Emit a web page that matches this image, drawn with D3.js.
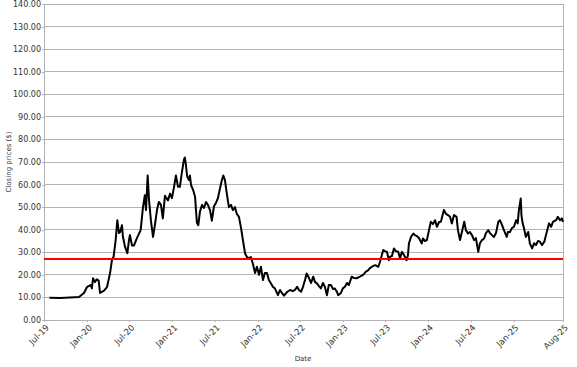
<!DOCTYPE html>
<html>
<head>
<meta charset="utf-8">
<script src="https://cdn.jsdelivr.net/npm/d3@7"></script>
<style>
  body { margin: 0; background: #fff; }
  text { font-family: "DejaVu Sans", sans-serif; }
</style>
</head>
<body>
<script>
const width = 577;
const height = 367;
const margin = { top: 4, right: 14, bottom: 47, left: 44 };

// closing prices
const dates = [
  "2019-07-24", "2019-09-07", "2019-10-20", "2019-11-28", "2019-12-19", "2020-01-02", "2020-01-17", "2020-01-22",
  "2020-01-27", "2020-02-04", "2020-02-12", "2020-02-20", "2020-02-26", "2020-03-05", "2020-03-14", "2020-03-27",
  "2020-04-09", "2020-04-17", "2020-04-24", "2020-05-03", "2020-05-10", "2020-05-17", "2020-05-22", "2020-05-30",
  "2020-06-03", "2020-06-12", "2020-06-22", "2020-06-29", "2020-07-03", "2020-07-12", "2020-07-20", "2020-08-02",
  "2020-08-18", "2020-08-28", "2020-09-05", "2020-09-10", "2020-09-17", "2020-09-23", "2020-10-01", "2020-10-10",
  "2020-10-18", "2020-10-27", "2020-11-04", "2020-11-13", "2020-11-21", "2020-11-30", "2020-12-13", "2020-12-22",
  "2020-12-30", "2021-01-08", "2021-01-16", "2021-01-25", "2021-02-02", "2021-02-10", "2021-02-19", "2021-02-23",
  "2021-02-27", "2021-03-05", "2021-03-13", "2021-03-17", "2021-03-22", "2021-03-31", "2021-04-08", "2021-04-12",
  "2021-04-16", "2021-04-22", "2021-04-29", "2021-05-08", "2021-05-16", "2021-05-25", "2021-06-02", "2021-06-11",
  "2021-06-19", "2021-06-28", "2021-07-07", "2021-07-15", "2021-07-24", "2021-08-01", "2021-08-07", "2021-08-14",
  "2021-08-23", "2021-08-31", "2021-09-09", "2021-09-17", "2021-09-26", "2021-10-04", "2021-10-13", "2021-10-22",
  "2021-10-30", "2021-11-08", "2021-11-16", "2021-11-25", "2021-12-03", "2021-12-12", "2021-12-21", "2021-12-29",
  "2022-01-07", "2022-01-15", "2022-01-24", "2022-02-01", "2022-02-10", "2022-02-18", "2022-02-26", "2022-03-08",
  "2022-03-16", "2022-03-29", "2022-04-07", "2022-04-15", "2022-04-24", "2022-05-07", "2022-05-20", "2022-06-01",
  "2022-06-10", "2022-06-19", "2022-06-27", "2022-07-06", "2022-07-14", "2022-07-23", "2022-07-30", "2022-08-09",
  "2022-08-18", "2022-08-27", "2022-09-04", "2022-09-12", "2022-09-21", "2022-09-29", "2022-10-08", "2022-10-16",
  "2022-10-25", "2022-11-02", "2022-11-11", "2022-11-20", "2022-11-28", "2022-12-07", "2022-12-12", "2022-12-24",
  "2023-01-01", "2023-01-10", "2023-01-19", "2023-01-27", "2023-02-08", "2023-02-18", "2023-03-01", "2023-03-15",
  "2023-03-29", "2023-04-10", "2023-04-19", "2023-04-27", "2023-05-06", "2023-05-19", "2023-06-02", "2023-06-09",
  "2023-06-23", "2023-06-30", "2023-07-09", "2023-07-17", "2023-07-22", "2023-07-30", "2023-08-08", "2023-08-16",
  "2023-08-26", "2023-09-03", "2023-09-11", "2023-09-20", "2023-10-01", "2023-10-07", "2023-10-11", "2023-10-20",
  "2023-10-30", "2023-11-06", "2023-11-14", "2023-11-23", "2023-12-05", "2023-12-10", "2023-12-19", "2023-12-27",
  "2024-01-05", "2024-01-13", "2024-01-22", "2024-01-31", "2024-02-08", "2024-02-17", "2024-02-25", "2024-03-05",
  "2024-03-09", "2024-03-18", "2024-03-26", "2024-04-04", "2024-04-12", "2024-04-21", "2024-05-02", "2024-05-08",
  "2024-05-17", "2024-05-25", "2024-06-04", "2024-06-11", "2024-06-20", "2024-06-28", "2024-07-07", "2024-07-16",
  "2024-07-24", "2024-08-03", "2024-08-10", "2024-08-19", "2024-08-28", "2024-09-05", "2024-09-15", "2024-09-22",
  "2024-10-01", "2024-10-09", "2024-10-18", "2024-10-28", "2024-11-04", "2024-11-13", "2024-11-21", "2024-12-03",
  "2024-12-08", "2024-12-17", "2024-12-25", "2025-01-03", "2025-01-12", "2025-01-19", "2025-01-24", "2025-02-01",
  "2025-02-04", "2025-02-08", "2025-02-15", "2025-02-23", "2025-03-05", "2025-03-12", "2025-03-22", "2025-03-30",
  "2025-04-07", "2025-04-16", "2025-04-24", "2025-05-03", "2025-05-13", "2025-05-20", "2025-06-02", "2025-06-11",
  "2025-06-19", "2025-07-02", "2025-07-10", "2025-07-19", "2025-07-27", "2025-08-01"
];
const prices = [
  9.9, 9.8, 10.0, 10.2, 12.0, 14.7, 15.5, 14.0,
  18.5, 16.8, 18.0, 17.5, 12.0, 12.5, 13.0, 14.6,
  20.8, 26.5, 28.0, 35.4, 44.2, 38.5, 39.0, 42.0,
  37.0, 32.4, 29.6, 35.4, 37.6, 33.0, 33.0, 36.3,
  39.8, 50.0, 55.3, 48.7, 64.0, 53.0, 44.0, 36.8,
  42.0, 48.7, 52.3, 51.0, 45.0, 55.0, 53.0, 56.0,
  54.0, 59.0, 64.0, 59.0, 59.0, 65.0, 70.8, 72.0,
  69.5, 63.7, 62.0, 64.0, 59.7, 57.5, 54.6, 48.7,
  43.0, 42.0, 48.0, 51.0, 49.6, 52.3, 51.0, 48.7,
  44.0, 50.4, 52.0, 54.0, 58.4, 62.0, 64.0, 62.0,
  55.3, 50.0, 51.0, 48.7, 50.0, 47.0, 45.7, 40.7,
  35.4, 29.6, 27.9, 27.4, 27.9, 24.8, 20.8, 23.6,
  20.0, 23.6, 17.7, 20.8, 20.8, 17.7, 16.4, 14.6,
  14.0, 11.0, 13.3, 12.0, 10.8, 12.4, 13.3, 12.8,
  13.3, 14.7, 13.3, 12.5, 14.6, 17.7, 20.6, 18.6,
  16.4, 19.2, 16.8, 16.2, 15.0, 14.0, 16.4, 14.7,
  11.0, 15.5, 15.5, 13.7, 14.0, 12.4, 11.0, 12.0,
  14.0, 14.7, 16.4, 15.5, 19.2, 18.6, 18.5, 19.2,
  20.0, 21.4, 22.0, 23.0, 23.6, 24.3, 23.6, 25.7,
  31.0, 30.5, 30.2, 26.5, 28.0, 28.3, 31.7, 30.5,
  30.2, 27.4, 30.2, 28.8, 26.5, 28.8, 33.9, 36.8,
  38.3, 37.6, 37.2, 36.3, 33.9, 36.1, 35.0, 35.4,
  39.8, 43.5, 42.5, 44.2, 41.3, 43.4, 43.5, 47.2,
  48.7, 47.0, 46.5, 45.7, 42.8, 46.5, 45.7, 39.8,
  35.4, 39.0, 43.5, 39.8, 38.3, 39.0, 37.6, 35.4,
  36.3, 30.2, 33.9, 35.4, 36.1, 38.5, 39.8, 38.5,
  37.6, 36.8, 38.5, 43.5, 44.2, 42.0, 39.8, 36.8,
  39.0, 39.0, 40.7, 41.3, 44.2, 42.8, 48.7, 53.8,
  46.5, 43.5, 40.6, 36.8, 39.0, 33.9, 31.7, 34.0,
  33.2, 35.0, 34.7, 33.2, 34.7, 37.6, 42.8, 41.3,
  43.5, 44.2, 45.7, 44.2, 45.0, 43.5
];

const referenceValue = 27;
const tickDates = ["2019-07-01", "2020-01-01", "2020-07-01", "2021-01-01", "2021-07-01", "2022-01-01",
  "2022-07-01", "2023-01-01", "2023-07-01", "2024-01-01", "2024-07-01", "2025-01-01", "2025-08-01"];
const yTicks = d3.range(0, 141, 10);

const parse = d3.timeParse("%Y-%m-%d");
const data = dates.map((d, i) => ({ date: parse(d), value: prices[i] }));

const svg = d3
  .select("body")
  .append("svg")
  .attr("width", width)
  .attr("height", height);

const x = d3
  .scaleTime()
  .domain([parse("2019-07-01"), parse("2025-08-01")])
  .range([margin.left, width - margin.right]);

const y = d3
  .scaleLinear()
  .domain([0, 140])
  .range([height - margin.bottom, margin.top]);

// horizontal grid
svg
  .append("g")
  .selectAll("line")
  .data(yTicks)
  .join("line")
  .attr("x1", margin.left)
  .attr("x2", width - margin.right)
  .attr("y1", (d) => y(d))
  .attr("y2", (d) => y(d))
  .attr("stroke", "#b3b3b3")
  .attr("stroke-width", 1)
  .attr("shape-rendering", "crispEdges");

// right border
svg
  .append("line")
  .attr("x1", width - margin.right)
  .attr("x2", width - margin.right)
  .attr("y1", margin.top)
  .attr("y2", height - margin.bottom)
  .attr("stroke", "#b3b3b3")
  .attr("shape-rendering", "crispEdges");

// y axis
const yAxis = svg
  .append("g")
  .attr("transform", `translate(${margin.left},0)`)
  .call(
    d3.axisLeft(y)
      .tickValues(yTicks)
      .tickFormat(d3.format(".2f"))
      .tickSize(2)
      .tickPadding(1)
  );
yAxis.selectAll("path, line").attr("stroke", "#b3b3b3").attr("shape-rendering", "crispEdges");
yAxis.selectAll("text").attr("fill", "#333").style("font-size", "8px");

// x axis
const xAxis = svg
  .append("g")
  .attr("transform", `translate(0,${height - margin.bottom})`)
  .call(
    d3.axisBottom(x)
      .tickValues(tickDates.map(parse))
      .tickFormat(d3.timeFormat("%b-%y"))
      .tickSize(2)
  );
xAxis.selectAll("path, line").attr("stroke", "#b3b3b3").attr("shape-rendering", "crispEdges");
xAxis
  .selectAll("text")
  .attr("fill", "#333")
  .style("font-size", "8.5px")
  .attr("text-anchor", "end")
  .attr("dy", "0.35em")
  .attr("transform", "translate(3,6) rotate(-45)")
  .attr("y", 0)
  .attr("x", 0);

// price line
svg
  .append("path")
  .datum(data)
  .attr("fill", "none")
  .attr("stroke", "#000")
  .attr("stroke-width", 2)
  .attr("stroke-linejoin", "round")
  .attr("d", d3.line().x((d) => x(d.date)).y((d) => y(d.value)));

// reference line
svg
  .append("line")
  .attr("x1", margin.left)
  .attr("x2", width - margin.right)
  .attr("y1", y(referenceValue))
  .attr("y2", y(referenceValue))
  .attr("stroke", "#ff0000")
  .attr("stroke-width", 2);

// axis titles
svg
  .append("text")
  .attr("transform", `translate(11,${(margin.top + height - margin.bottom) / 2}) rotate(-90)`)
  .attr("text-anchor", "middle")
  .attr("fill", "#333")
  .style("font-size", "7px")
  .text("Closing prices ($)");

svg
  .append("text")
  .attr("x", 303)
  .attr("y", 361)
  .attr("text-anchor", "middle")
  .attr("fill", "#333")
  .style("font-size", "7px")
  .text("Date");
</script>
</body>
</html>
